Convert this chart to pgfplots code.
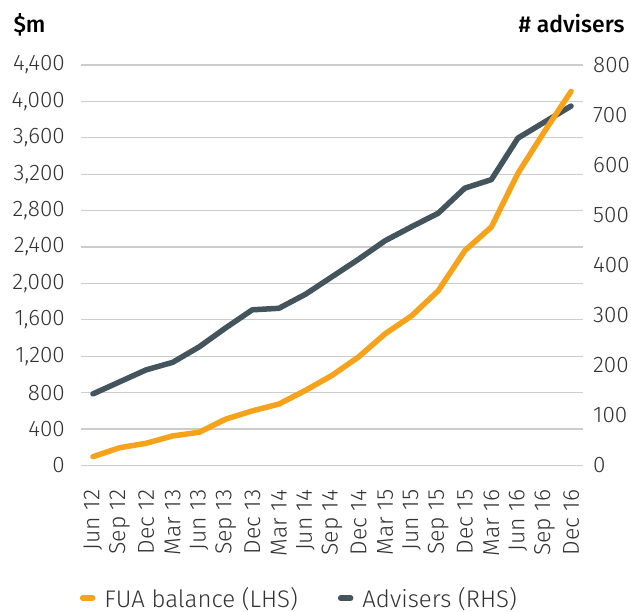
\documentclass[border=0pt]{standalone}
\usepackage{pgfplots}
\pgfplotsset{compat=1.18}
\usepackage{pgfplotstable}
\usepackage{fontspec}
\setmainfont{Fira Sans}[UprightFont=* Light, BoldFont=* Medium]
\definecolor{fua}{HTML}{F7A21B}
\definecolor{adv}{HTML}{44545D}
\definecolor{gridc}{HTML}{CCCCCC}
\definecolor{tickc}{HTML}{333333}

\pgfplotstableread{
x fua adv
0 97 143
1 195 167
2 244 191
3 325 206
4 365 237
5 510 275
6 600 311
7 675 314
8 825 342
9 990 377
10 1193 412
11 1447 449
12 1645 477
13 1920 504
14 2360 554
15 2620 571
16 3210 654
17 3670 686
18 4110 718
}\datatab

\pgfplotsset{
  common/.style={
    scale only axis, width=502pt, height=400.5pt,
    at={(81pt,146.5pt)}, anchor=south west,
    xmin=-0.45, xmax=18.45,
    major tick length=0pt,
    axis line style={draw=none},
    tick label style={text=tickc, inner sep=0pt, font=\fontsize{22.5}{26}\selectfont},
    /pgf/number format/assume math mode=true,
    /pgf/number format/1000 sep={,},
    scaled y ticks=false,
    clip=false,
  }
}

\begin{document}
\begin{tikzpicture}[font=\fontsize{22.5}{26}\selectfont]
\path[use as bounding box] (0,0) rectangle (631pt,612pt);
% axis 1: grid, left labels, x labels
\begin{axis}[common,
  ymin=0, ymax=4400, ytick={0,400,...,4400},
  axis x line*=bottom, axis y line*=left,
  ymajorgrids, grid style={gridc, line width=1.2pt},
  xtick={0,...,18},
  xticklabels={Jun 12,Sep 12,Dec 12,Mar 13,Jun 13,Sep 13,Dec 13,Mar 14,Jun 14,Sep 14,Dec 14,Mar 15,Jun 15,Sep 15,Dec 15,Mar 16,Jun 16,Sep 16,Dec 16},
  xticklabel style={rotate=90, anchor=east, font=\fontsize{23}{26}\selectfont},
  xticklabel shift=24pt,
  yticklabel shift=16pt,
]
\end{axis}
% axis 2: right scale, advisers
\begin{axis}[common,
  ymin=0, ymax=800, ytick={0,100,...,800},
  axis y line*=right, axis x line=none,
  yticklabel shift=10pt,
]
\addplot[adv, line width=5.5pt, line join=round, line cap=round] table[x=x,y=adv]{\datatab};
\end{axis}
% axis 3: left scale, FUA
\begin{axis}[common,
  ymin=0, ymax=4400,
  axis x line=none, axis y line=none,
  legend style={draw=none, fill=none, legend columns=2, at={(0.435,-0.331)}, anchor=center,
    /tikz/every odd column/.append style={column sep=7pt},
    /tikz/every even column/.append style={column sep=38pt}, text=tickc,
    font=\fontsize{24}{28}\selectfont},
  legend image code/.code={\draw[#1, line width=5.5pt, line cap=round] (0pt,0pt) -- (10pt,0pt);},
]
\addplot[fua, line width=5.5pt, line join=round, line cap=round] table[x=x,y=fua]{\datatab};
\addlegendentry{FUA balance (LHS)}
\addlegendimage{adv}
\addlegendentry{Advisers (RHS)}
\end{axis}
\node[anchor=base west, font=\bfseries\fontsize{23}{27}\selectfont] at (10pt,579pt) {\$m};
\node[anchor=base east, font=\bfseries\fontsize{23}{27}\selectfont] at (628pt,579pt) {\# advisers};
\end{tikzpicture}
\end{document}
